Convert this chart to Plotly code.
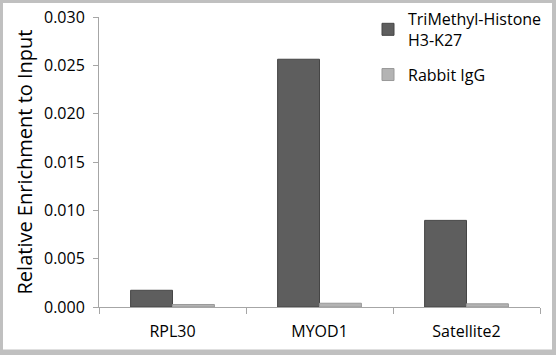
import plotly.graph_objects as go

categories = ["RPL30", "MYOD1", "Satellite2"]
trimethyl = [0.00173, 0.02563, 0.00896]
igg = [0.00026, 0.00039, 0.00033]
series_names = ["TriMethyl-Histone<br>H3-K27", "Rabbit IgG"]
ytick_vals = [0.0, 0.005, 0.010, 0.015, 0.020, 0.025, 0.030]
ytick_text = ["0.000", "0.005", "0.010", "0.015", "0.020", "0.025", "0.030"]

W, H = 556, 355
L, R, T, B = 99, 16, 17, 47.5
pw, ph = W - L - R, H - T - B

def px(x):
    return (x - L) / pw

def py(y):
    return (H - B - y) / ph

FONT = "Open Sans"

fig = go.Figure()
fig.add_trace(go.Bar(x=categories, y=trimethyl, name=series_names[0], legendgroup="a",
                     marker=dict(color="#5e5e5e", line=dict(color="#454545", width=1))))
fig.add_trace(go.Bar(x=categories, y=igg, name=series_names[1], legendgroup="b",
                     marker=dict(color="#b3b3b3", line=dict(color="#999999", width=1))))

fig.update_layout(
    width=W, height=H,
    margin=dict(l=L, r=R, t=T, b=B, pad=0, autoexpand=False),
    paper_bgcolor="#c0c0c0",
    plot_bgcolor="rgba(0,0,0,0)",
    barmode="group",
    bargap=0.43,
    bargroupgap=0,
    font=dict(family=FONT, size=16, color="#000000"),
    showlegend=True,
    legend=dict(x=px(368), y=py(2), xanchor="left", yanchor="top",
                bgcolor="rgba(0,0,0,0)", font=dict(family=FONT, size=16, color="#000000"),
                tracegroupgap=11, itemwidth=30),
    shapes=[dict(type="rect", xref="paper", yref="paper",
                 x0=px(3), x1=px(552), y0=py(350), y1=py(3),
                 fillcolor="white", line=dict(width=0), layer="below")],
)
fig.update_xaxes(
    type="category", automargin=False,
    showline=True, linecolor="#a6a6a6", linewidth=1,
    ticks="outside", ticklen=6, tickcolor="#a6a6a6", tickson="boundaries",
    showgrid=False, zeroline=False, ticklabelstandoff=10,
    tickfont=dict(family=FONT, size=16, color="#000000"),
)
fig.update_yaxes(
    range=[0, 0.030], automargin=False,
    tickvals=ytick_vals, ticktext=ytick_text,
    showline=True, linecolor="#a6a6a6", linewidth=1,
    ticks="outside", ticklen=5, tickcolor="#a6a6a6", ticklabelstandoff=5,
    showgrid=False, zeroline=False,
    tickfont=dict(family=FONT, size=16, color="#000000"),
    title=dict(text="Relative Enrichment to Input", font=dict(family=FONT, size=20, color="#000000"), standoff=6),
)

fig.write_html("out.html", config={"displayModeBar": False},
               post_script="document.body.style.margin='0';document.body.style.padding='0';")
